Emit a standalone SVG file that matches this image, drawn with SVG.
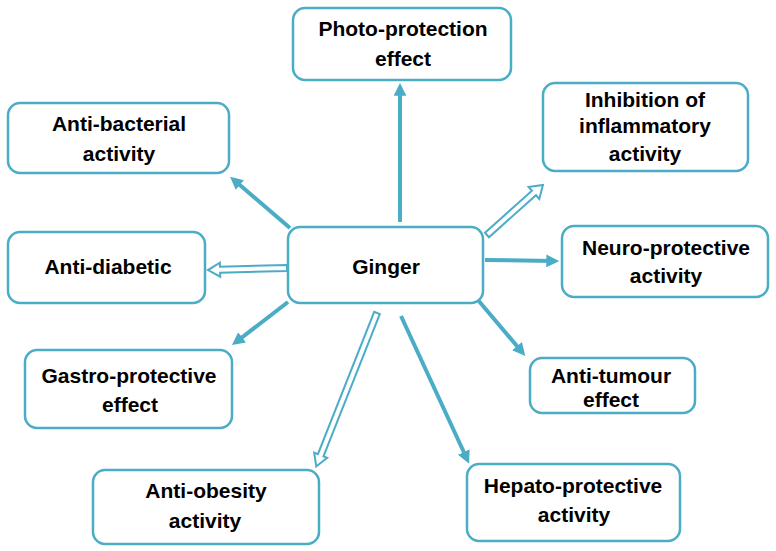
<svg xmlns="http://www.w3.org/2000/svg" width="776" height="551" viewBox="0 0 776 551">
<defs>
<style>
.box{fill:#fff;stroke:#4bacc6;stroke-width:2.5}
.t{font-family:"Liberation Sans",Arial,sans-serif;font-weight:bold;font-size:21px;fill:#000;text-anchor:middle}
.sa{stroke:#4bacc6;stroke-width:4;fill:none;marker-end:url(#ah)}
.ha{fill:#fff;stroke:#4bacc6;stroke-width:2}
</style>
<marker id="ah" viewBox="0 0 10 10" refX="6" refY="5" markerWidth="3.2" markerHeight="3.2" orient="auto">
<path d="M0,0 L10,5 L0,10 z" fill="#4bacc6"/>
</marker>
</defs>
<rect width="776" height="551" fill="#fff"/>
<g id="connectors">
<line class="sa" x1="400" y1="222" x2="400" y2="88"/>
<line class="sa" x1="290" y1="228" x2="234" y2="180"/>
<line class="sa" x1="288" y1="302" x2="236" y2="342"/>
<line class="sa" x1="401" y1="316" x2="467" y2="459"/>
<line class="sa" x1="478" y1="300" x2="522" y2="352"/>
<line class="sa" x1="485" y1="260" x2="554" y2="261"/>
<polygon class="ha" transform="translate(487,235) rotate(-41.8)" points="0,-3 63,-3 63,-8 75,0 63,8 63,3 0,3"/>
<polygon class="ha" transform="translate(287,268) rotate(178.5)" points="0,-3 67,-3 67,-7 79,0 67,7 67,3 0,3"/>
<polygon class="ha" transform="translate(377,313) rotate(111.6)" points="0,-3 153,-3 153,-7 165,0 153,7 153,3 0,3"/>
</g>
<g id="photo"><rect class="box" x="293" y="8" width="218" height="72" rx="12"/><text class="t" x="403" y="36">Photo-protection</text><text class="t" x="403" y="66">effect</text></g>
<g id="inhibition"><rect class="box" x="543" y="83" width="205" height="88" rx="12"/><text class="t" x="645" y="107">Inhibition of</text><text class="t" x="645" y="133">inflammatory</text><text class="t" x="645" y="161">activity</text></g>
<g id="antibacterial"><rect class="box" x="8" y="103" width="221" height="70" rx="12"/><text class="t" x="119" y="131">Anti-bacterial</text><text class="t" x="119" y="161">activity</text></g>
<g id="antidiabetic"><rect class="box" x="8" y="232" width="197" height="71" rx="12"/><text class="t" x="108" y="274">Anti-diabetic</text></g>
<g id="ginger"><rect class="box" x="288" y="227" width="195" height="76" rx="12"/><text class="t" x="386" y="274">Ginger</text></g>
<g id="neuro"><rect class="box" x="562" y="226" width="206" height="71" rx="12"/><text class="t" x="666" y="255">Neuro-protective</text><text class="t" x="666" y="283">activity</text></g>
<g id="gastro"><rect class="box" x="25" y="350" width="207" height="78" rx="12"/><text class="t" x="129" y="383">Gastro-protective</text><text class="t" x="130" y="412">effect</text></g>
<g id="antitumour"><rect class="box" x="530" y="358" width="165" height="55" rx="12"/><text class="t" x="611" y="383">Anti-tumour</text><text class="t" x="611" y="407">effect</text></g>
<g id="antiobesity"><rect class="box" x="93" y="470" width="226" height="74" rx="12"/><text class="t" x="206" y="498">Anti-obesity</text><text class="t" x="205" y="528">activity</text></g>
<g id="hepato"><rect class="box" x="467" y="464" width="213" height="77" rx="12"/><text class="t" x="573" y="493">Hepato-protective</text><text class="t" x="574" y="522">activity</text></g>
</svg>
